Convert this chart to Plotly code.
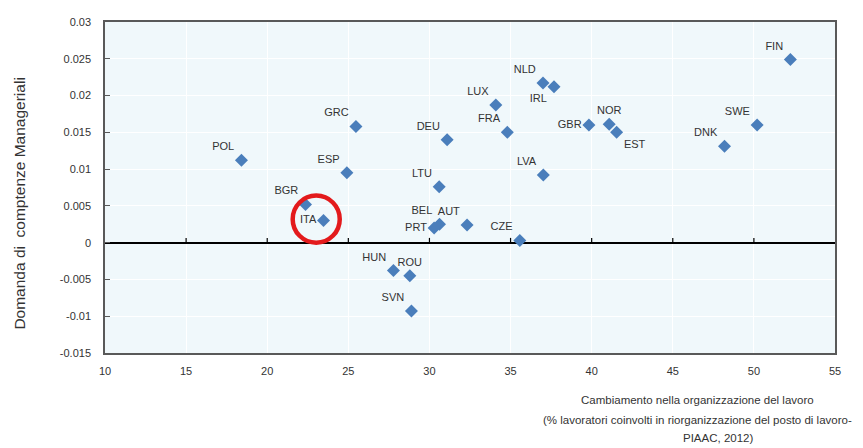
import plotly.graph_objects as go

countries = ["FIN", "NLD", "IRL", "LUX", "FRA", "GBR", "NOR", "EST", "DNK", "SWE",
             "GRC", "DEU", "POL", "ESP", "LVA", "LTU", "BGR", "ITA", "BEL", "PRT",
             "AUT", "CZE", "HUN", "ROU", "SVN"]
work_reorg = [52.25, 37.0, 37.68, 34.09, 34.80, 39.83, 41.08, 41.54, 48.19, 50.2,
              25.47, 31.09, 18.41, 24.91, 37.02, 30.60, 22.36, 23.47, 30.62, 30.29,
              32.32, 35.57, 27.78, 28.79, 28.89]
mgmt_demand = [0.0249, 0.0217, 0.0212, 0.0187, 0.0150, 0.0160, 0.0161, 0.0150, 0.0131, 0.0160,
               0.0158, 0.0140, 0.0112, 0.0095, 0.0092, 0.0076, 0.0052, 0.0030, 0.0025, 0.0020,
               0.0024, 0.0003, -0.0038, -0.0045, -0.0093]
label_pos = ["top left", "top left", "bottom left", "top left", "top left", "middle left",
             "top center", "bottom right", "top left", "top left",
             "top left", "top left", "top left", "top left", "top left", "top left",
             "top left", "middle left", "top left", "middle left",
             "top left", "top left", "top left", "top center", "top left"]

x_ticks = [10, 15, 20, 25, 30, 35, 40, 45, 50, 55]
y_ticks = [-0.015, -0.01, -0.005, 0, 0.005, 0.01, 0.015, 0.02, 0.025, 0.03]
y_tick_labels = ["-0.015", "-0.01", "-0.005", "0", "0.005", "0.01", "0.015", "0.02", "0.025", "0.03"]

highlight = "ITA"

FONT = "Liberation Sans, Arial, sans-serif"
TXT = "#333333"

fig = go.Figure()
fig.add_trace(go.Scatter(
    x=work_reorg, y=mgmt_demand, mode="markers+text",
    text=countries, textposition=label_pos,
    textfont=dict(family=FONT, size=11, color=TXT),
    marker=dict(symbol="diamond", size=10, color="#4A7EBB"),
    cliponaxis=False, hoverinfo="text",
))

hi = countries.index(highlight)
hx, hy = work_reorg[hi], mgmt_demand[hi]
cx, cy = hx - 0.45, hy + 0.0002
fig.add_shape(type="circle", xref="x", yref="y",
              x0=cx - 1.45, x1=cx + 1.45,
              y0=cy - 0.0032, y1=cy + 0.0032,
              line=dict(color="#E31A1C", width=4.5), layer="above")

# small tick marks on the zero line
for xv in x_ticks[1:-1]:
    fig.add_shape(type="line", xref="x", yref="y", x0=xv, x1=xv, y0=0, y1=0.00065,
                  line=dict(color="black", width=1.2))

fig.update_layout(
    width=855, height=440,
    margin=dict(l=96.5, r=28, t=8, b=95),
    paper_bgcolor="white", plot_bgcolor="#F0F8FB",
    showlegend=False,
    font=dict(family=FONT, size=11, color=TXT),
    xaxis=dict(range=[10, 55], tickvals=x_ticks, ticks="", showgrid=True,
               gridcolor="white", gridwidth=1, zeroline=False,
               showline=True, mirror=True, linecolor="#595959", linewidth=1.5,
               ticklabelstandoff=7, tickfont=dict(family=FONT, size=11, color=TXT)),
    yaxis=dict(range=[-0.015, 0.03], tickvals=y_ticks, ticktext=y_tick_labels,
               ticks="inside", ticklen=5, tickcolor="#595959",
               showgrid=True, gridcolor="white", gridwidth=1,
               zeroline=True, zerolinecolor="black", zerolinewidth=1.5,
               showline=True, mirror=True, linecolor="#595959", linewidth=1.5,
               ticklabelstandoff=10, tickfont=dict(family=FONT, size=11, color=TXT)),
    annotations=[
        dict(text="Domanda di  comptenze Manageriali", xref="paper", yref="paper",
             x=-0.1184, y=0.45, textangle=-90, showarrow=False,
             font=dict(family=FONT, size=15.5, color=TXT),
             xanchor="center", yanchor="middle"),
        dict(text="Cambiamento nella organizzazione del lavoro", xref="paper", yref="paper",
             x=0.811, y=-0.1424, showarrow=False, xanchor="center", yanchor="middle",
             font=dict(family=FONT, size=11.5, color=TXT)),
        dict(text="(% lavoratori coinvolti in riorganizzazione del posto di lavoro-",
             xref="paper", yref="paper",
             x=0.811, y=-0.2018, showarrow=False, xanchor="center", yanchor="middle",
             font=dict(family=FONT, size=11.5, color=TXT)),
        dict(text="PIAAC, 2012)", xref="paper", yref="paper",
             x=0.840, y=-0.258, showarrow=False, xanchor="center", yanchor="middle",
             font=dict(family=FONT, size=11.5, color=TXT)),
    ],
)

fig.write_html("out.html")
